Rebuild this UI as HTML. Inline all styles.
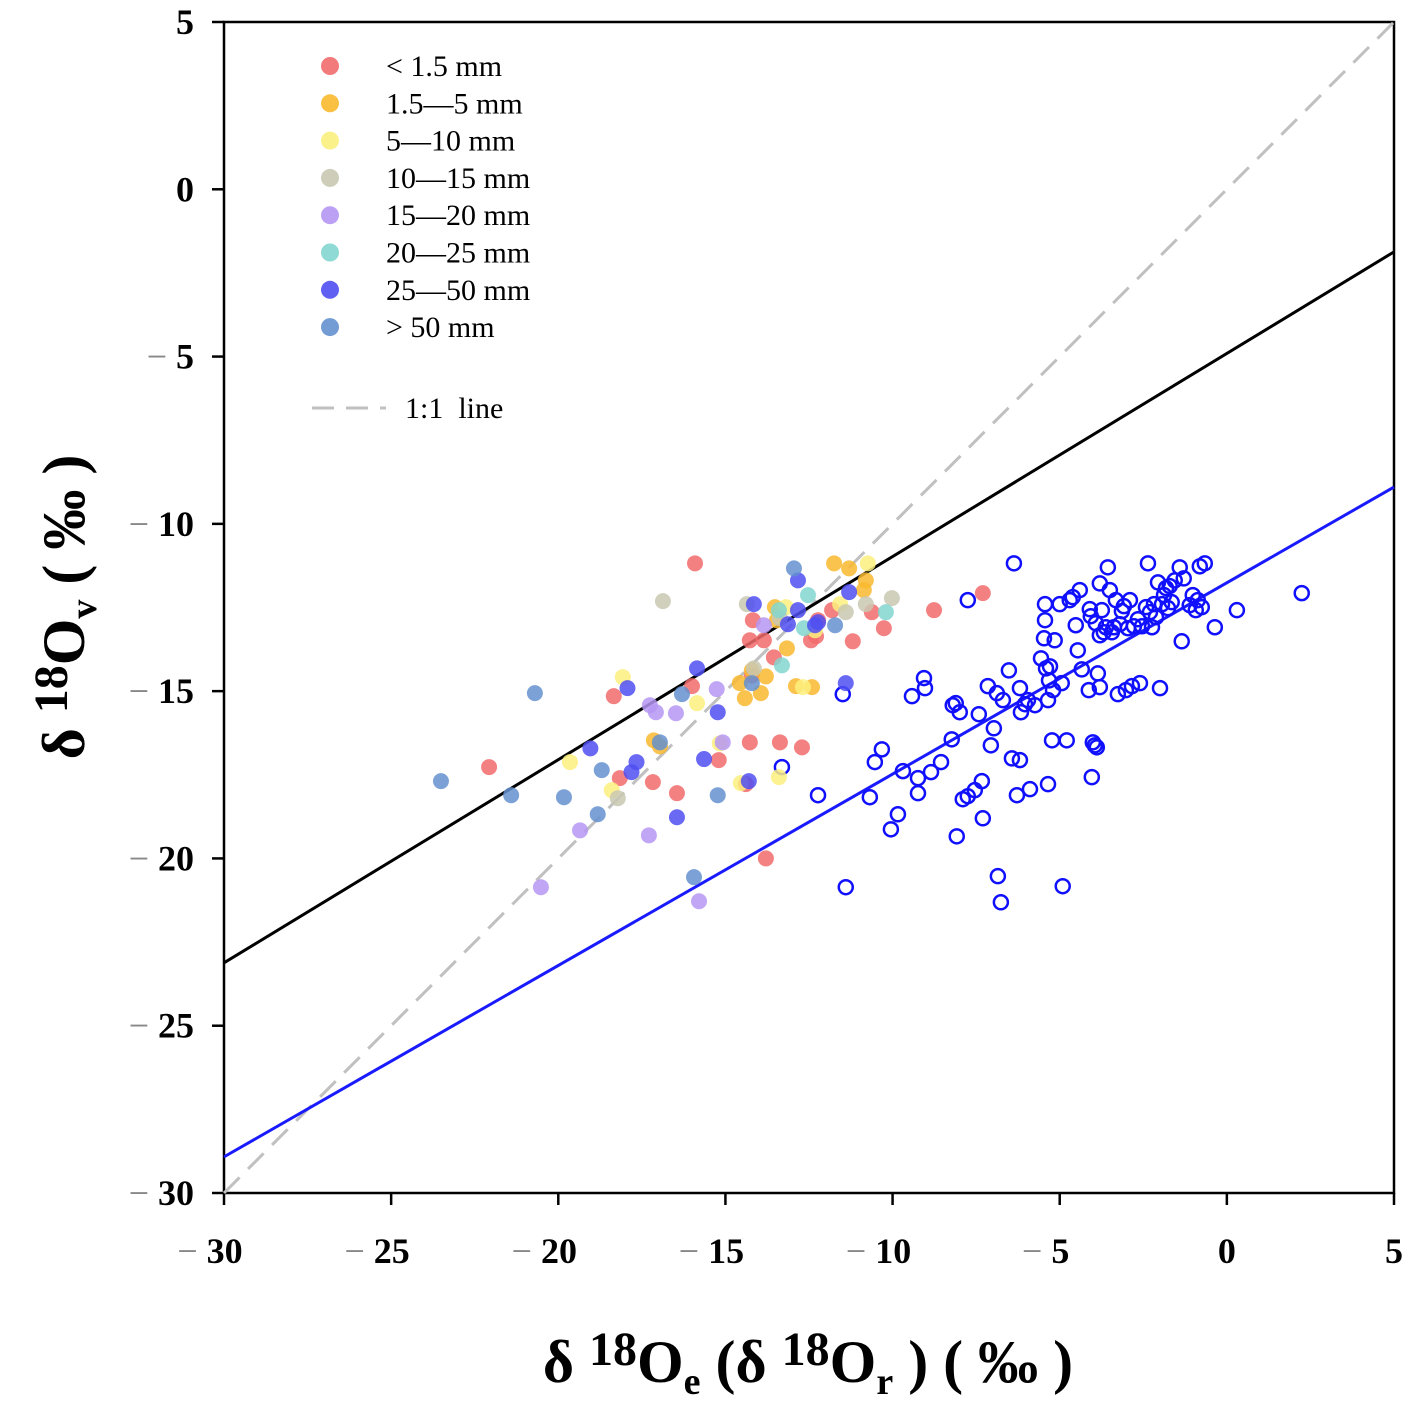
<!DOCTYPE html>
<html><head><meta charset="utf-8"><style>
html,body{margin:0;padding:0;background:#fff;}
svg{display:block;font-family:"Liberation Serif",serif;}
</style></head><body>
<svg id="chart" width="1413" height="1408" viewBox="0 0 1413 1408" xmlns="http://www.w3.org/2000/svg">
<g id="plot"></g>
</svg>
<script>
const xTicks=[-30,-25,-20,-15,-10,-5,0,5];
const yTicks=[5,0,-5,-10,-15,-20,-25,-30];
const lineBlack=[[-30,-23.12],[5,-1.87]];
const lineBlue=[[-30,-28.92],[5,-8.9]];
const lineOneToOne=[[-30,-30],[5,5]];
const openX=[-6.37,-7.75,-11.49,-11.40,-13.31,-12.23,-9.42,-9.06,-9.03,-10.68,-10.53,-10.32,-10.05,-9.84,-9.69,-9.24,-9.24,-8.85,-8.55,-8.23,-8.20,-8.11,-7.99,-8.08,-7.90,-7.75,-7.54,-7.42,-7.33,-7.30,-7.15,-7.06,-6.97,-6.88,-6.85,-6.76,-6.70,-6.52,-6.43,-6.28,-6.19,-6.19,-6.16,-6.04,-5.95,-5.89,-5.74,-5.56,-5.47,-5.44,-5.44,-5.41,-5.35,-5.35,-5.32,-5.29,-5.23,-5.20,-5.15,-5.00,-4.94,-4.91,-4.79,-4.70,-4.61,-4.52,-4.46,-4.40,-4.34,-4.13,-4.10,-4.07,-4.04,-4.01,-3.95,-3.92,-3.89,-3.86,-3.80,-3.80,-3.80,-3.74,-3.68,-3.62,-3.56,-3.50,-3.44,-3.38,-3.32,-3.26,-3.20,-3.14,-3.08,-3.02,-2.96,-2.90,-2.84,-2.78,-2.66,-2.60,-2.54,-2.42,-2.36,-2.30,-2.24,-2.18,-2.12,-2.06,-2.00,-1.94,-1.88,-1.82,-1.76,-1.71,-1.65,-1.56,-1.41,-1.35,-1.29,-1.11,-1.02,-0.93,-0.87,-0.81,-0.75,-0.66,-0.36,0.30,2.24];
const openY=[-11.18,-12.28,-15.09,-20.86,-17.27,-18.11,-15.15,-14.61,-14.91,-18.17,-17.12,-16.74,-19.13,-18.68,-17.39,-18.05,-17.60,-17.42,-17.12,-16.44,-15.42,-15.36,-15.63,-19.34,-18.23,-18.14,-17.96,-15.69,-17.69,-18.80,-14.85,-16.62,-16.11,-15.06,-20.53,-21.31,-15.27,-14.38,-17.01,-18.11,-17.06,-14.91,-15.63,-15.39,-15.27,-17.93,-15.42,-14.02,-13.42,-12.88,-12.40,-14.32,-15.27,-17.78,-14.68,-14.26,-16.47,-14.97,-13.48,-12.40,-14.76,-20.83,-16.47,-12.28,-12.19,-13.03,-13.78,-11.98,-14.35,-14.97,-12.55,-12.76,-17.57,-16.53,-16.62,-12.97,-16.68,-14.47,-11.78,-14.88,-13.33,-12.58,-13.24,-13.09,-11.30,-11.98,-13.24,-13.09,-12.28,-15.09,-13.00,-12.61,-12.46,-14.97,-13.12,-12.28,-14.85,-13.06,-12.85,-14.76,-13.06,-12.49,-11.18,-12.64,-13.09,-12.40,-12.79,-11.75,-14.91,-12.40,-12.13,-11.92,-12.52,-11.86,-12.34,-11.69,-11.30,-13.51,-11.63,-12.43,-12.13,-12.58,-12.28,-11.27,-12.49,-11.18,-13.09,-12.58,-12.07];
const groupNames=["< 1.5 mm","1.5\u20145 mm","5\u201410 mm","10\u201415 mm","15\u201420 mm","20\u201425 mm","25\u201450 mm","> 50 mm"];
const groupColors=["#f26b6b","#f9b92e","#fbf07e","#c9c8b2","#b596f2","#83d6cf","#4f4ff2","#6491cf"];
const g0x=[-15.91,-18.34,-18.16,-22.07,-17.17,-16.45,-16.00,-15.20,-14.39,-14.27,-14.18,-14.27,-14.21,-13.79,-13.85,-13.55,-13.37,-12.71,-12.44,-12.29,-12.23,-11.81,-11.19,-10.26,-10.62,-8.76,-7.30];
const g0y=[-11.18,-15.15,-17.60,-17.27,-17.72,-18.05,-14.85,-17.06,-17.78,-16.53,-12.88,-13.48,-14.53,-20.00,-13.48,-13.99,-16.53,-16.68,-13.48,-13.36,-12.88,-12.58,-13.51,-13.12,-12.64,-12.58,-12.07];
const g1x=[-11.75,-11.30,-10.80,-10.86,-13.52,-13.46,-13.16,-12.89,-12.41,-14.42,-13.94,-13.79,-17.14,-16.96,-14.57,-14.21];
const g1y=[-11.18,-11.33,-11.69,-11.98,-12.49,-12.88,-13.72,-14.85,-14.88,-15.21,-15.06,-14.56,-16.47,-16.65,-14.76,-14.38];
const g2x=[-18.07,-19.65,-18.40,-15.85,-15.17,-13.40,-12.68,-10.74,-11.57,-12.32,-13.19,-14.54];
const g2y=[-14.58,-17.12,-17.96,-15.36,-16.56,-17.57,-14.88,-11.18,-12.40,-13.18,-12.49,-17.75];
const g3x=[-16.87,-18.22,-14.36,-14.15,-13.37,-11.40,-10.02,-10.80];
const g3y=[-12.31,-18.20,-12.40,-14.32,-12.82,-12.64,-12.22,-12.40];
const g4x=[-20.52,-19.35,-17.29,-15.79,-17.26,-17.08,-16.48,-15.08,-15.26,-13.85];
const g4y=[-20.86,-19.16,-19.31,-21.28,-15.42,-15.63,-15.66,-16.53,-14.94,-13.03];
const g5x=[-13.31,-12.53,-10.20,-12.65,-13.40];
const g5y=[-14.23,-12.13,-12.64,-13.12,-12.58];
const g6x=[-15.85,-14.15,-12.83,-12.83,-13.13,-12.23,-11.40,-11.30,-16.45,-17.93,-17.81,-19.04,-17.66,-15.23,-15.64,-14.30,-12.32];
const g6y=[-14.32,-12.40,-11.69,-12.58,-13.00,-12.94,-14.76,-12.04,-18.77,-14.91,-17.42,-16.71,-17.12,-15.63,-17.03,-17.69,-13.03];
const g7x=[-23.51,-20.70,-21.41,-19.83,-18.70,-18.82,-16.30,-15.94,-15.23,-14.21,-12.95,-11.72,-16.96];
const g7y=[-17.69,-15.06,-18.11,-18.17,-17.36,-18.68,-15.09,-20.56,-18.11,-14.76,-11.33,-13.03,-16.53];

const L=224,R=1394,T=22,B=1193,X0=-30,X1=5,Y0=-30,Y1=5;
const sx=v=>L+(v-X0)/(X1-X0)*(R-L);
const sy=v=>B-(v-Y0)/(Y1-Y0)*(B-T);
const NS="http://www.w3.org/2000/svg";
const plot=document.getElementById('plot');
function mk(tag,attrs,parent){const e=document.createElementNS(NS,tag);for(const k in attrs)e.setAttribute(k,attrs[k]);(parent||plot).appendChild(e);return e;}
function lbl(v){return v<0?'<tspan fill="#888" font-weight="normal">\u2212</tspan> '+Math.abs(v):String(v);}

let fr=mk('rect',{x:L,y:T,width:R-L,height:B-T,fill:'none',stroke:'#000','stroke-width':2.5});


yTicks.forEach(v=>{
 let t=mk('line',{x1:L-12,x2:L,y1:sy(v),y2:sy(v),stroke:'#000','stroke-width':2.5});
 
 
 let tx=mk('text',{x:L-30,y:sy(v)+12,'text-anchor':'end','font-size':36,'font-weight':'bold'});
 tx.innerHTML=lbl(v);
 
 
});
xTicks.forEach(v=>{
 let t=mk('line',{x1:sx(v),x2:sx(v),y1:B,y2:B+12,stroke:'#000','stroke-width':2.5});
 
 
 let tx=mk('text',{x:sx(v)-(v<0?14:0),y:B+70,'text-anchor':'middle','font-size':36,'font-weight':'bold'});
 tx.innerHTML=lbl(v);
 
 
});
let l1=mk('line',{x1:sx(lineOneToOne[0][0]),y1:sy(lineOneToOne[0][1]),x2:sx(lineOneToOne[1][0]),y2:sy(lineOneToOne[1][1]),stroke:'#c0c0c0','stroke-width':3,'stroke-dasharray':'22,12'});


let l2=mk('line',{x1:sx(lineBlack[0][0]),y1:sy(lineBlack[0][1]),x2:sx(lineBlack[1][0]),y2:sy(lineBlack[1][1]),stroke:'#000','stroke-width':3});


let l3=mk('line',{x1:sx(lineBlue[0][0]),y1:sy(lineBlue[0][1]),x2:sx(lineBlue[1][0]),y2:sy(lineBlue[1][1]),stroke:'#1a1aff','stroke-width':3});


openX.forEach((x,i)=>{
 let c=mk('circle',{cx:sx(x),cy:sy(openY[i]),r:7,fill:'none',stroke:'#1010ff','stroke-width':2.5});
 
 
});
const gx=[g0x,g1x,g2x,g3x,g4x,g5x,g6x,g7x],gy=[g0y,g1y,g2y,g3y,g4y,g5y,g6y,g7y];
gx.forEach((xs,k)=>{xs.forEach((x,i)=>{
 let c=mk('circle',{cx:sx(x),cy:sy(gy[k][i]),r:8,fill:groupColors[k],'fill-opacity':0.85});
 
 
});});
groupNames.forEach((n,k)=>{
 let y=66+k*37.3;
 let c=mk('circle',{cx:330,cy:y,r:9,fill:groupColors[k],'fill-opacity':0.9});
 
 
 let t=mk('text',{x:386,y:y+10,'font-size':30});
 t.textContent=n;
 
 
});
let ll=mk('line',{x1:312,x2:386,y1:408,y2:408,stroke:'#c0c0c0','stroke-width':3,'stroke-dasharray':'22,12'});


let lt=mk('text',{x:405,y:418,'font-size':30});
lt.textContent='1:1\u00a0\u00a0line';


let yt=mk('text',{x:0,y:0,transform:'translate(84,607) rotate(-90)','text-anchor':'middle','font-size':60,'font-weight':'bold'});
yt.innerHTML='δ <tspan dy="-17" font-size="48">18</tspan><tspan dy="17">O</tspan><tspan dy="12" font-size="38">v</tspan><tspan dy="-12"> ( ‰ )</tspan>';


let xt=mk('text',{x:808,y:1382,'text-anchor':'middle','font-size':60,'font-weight':'bold'});
xt.innerHTML='δ <tspan dy="-17" font-size="48">18</tspan><tspan dy="17">O</tspan><tspan dy="12" font-size="38">e</tspan><tspan dy="-12"> (δ </tspan><tspan dy="-17" font-size="48">18</tspan><tspan dy="17">O</tspan><tspan dy="12" font-size="38">r</tspan><tspan dy="-12"> ) ( ‰ )</tspan>';


</script>
</body></html>
